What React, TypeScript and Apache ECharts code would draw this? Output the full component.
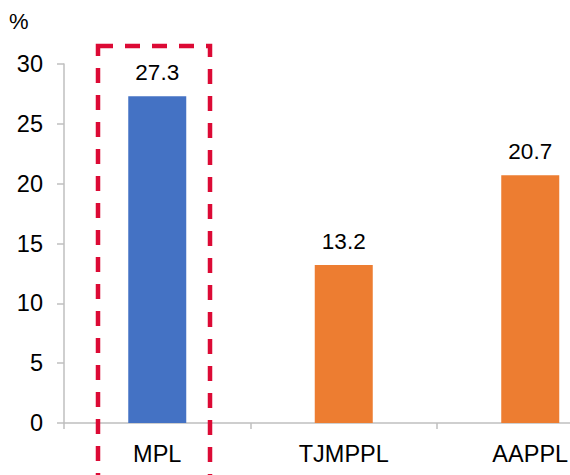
import React, { useEffect, useRef } from "react";
import * as echarts from "echarts";

const categories = ["MPL", "TJMPPL", "AAPPL"];
const values = [27.3, 13.2, 20.7];
const barColors = ["#4472C4", "#ED7D31", "#ED7D31"];
const yTicks = { min: 0, max: 30, interval: 5 };

export default function App() {
  const ref = useRef<HTMLDivElement>(null);
  useEffect(() => {
    if (!ref.current) return;
    const chart = echarts.init(ref.current, null, { renderer: "svg" });
    const font = "'Liberation Sans', Arial, sans-serif";
    chart.setOption({
      animation: false,
      backgroundColor: "#ffffff",
      grid: { left: 64, right: 16.5, top: 64, bottom: 52, containLabel: false },
      xAxis: {
        type: "category",
        data: categories,
        axisLine: { show: true, lineStyle: { color: "#BFBFBF", width: 1.5 } },
        axisTick: { show: true, length: 6, lineStyle: { color: "#BFBFBF", width: 1.5 } },
        axisLabel: { color: "#000", fontSize: 23.5, fontFamily: font, margin: 19 },
        splitLine: { show: false },
      },
      yAxis: {
        type: "value",
        min: yTicks.min,
        max: yTicks.max,
        interval: yTicks.interval,
        axisLine: { show: true, lineStyle: { color: "#BFBFBF", width: 1.5 } },
        axisTick: { show: true, length: 7, lineStyle: { color: "#BFBFBF", width: 1.5 } },
        axisLabel: { color: "#000", fontSize: 23.5, fontFamily: font, margin: 21 },
        splitLine: { show: false },
      },
      series: [
        {
          type: "bar",
          barWidth: 58,
          data: values.map((v, i) => ({ value: v, itemStyle: { color: barColors[i] } })),
          label: {
            show: true,
            position: "top",
            distance: 12,
            color: "#000",
            fontSize: 22.5,
            fontFamily: font,
            formatter: (p: any) => p.value.toFixed(1),
          },
        },
      ],
      graphic: [
        {
          type: "text",
          left: 9,
          top: 10,
          style: { text: "%", fill: "#000", fontSize: 22, fontFamily: font },
        },
        {
          type: "rect",
          shape: { x: 98, y: 46, width: 112, height: 460 },
          style: { fill: "none", stroke: "#DC0A35", lineWidth: 4.5, lineDash: [15, 12] },
          z: 100,
        },
      ],
    });
    return () => chart.dispose();
  }, []);
  return (
    <div
      style={{
        position: "absolute",
        left: 0,
        top: 0,
        width: 570,
        height: 475,
        overflow: "hidden",
      }}
    >
      <div ref={ref} style={{ width: 640, height: 475 }} />
    </div>
  );
}
